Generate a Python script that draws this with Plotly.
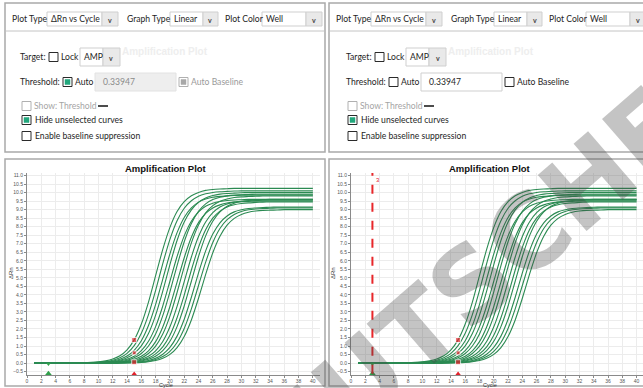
import plotly.graph_objects as go

# ---------------- data ----------------
cycles = list(range(1, 41))

well_01 = [0, 0, 0, 0, 0, 0, 0, 0.02, 0.04, 0.07, 0.13, 0.24, 0.43, 0.78, 1.36, 2.29, 3.58, 5.13, 6.67, 7.96,
           8.89, 9.47, 9.82, 10.01, 10.13, 10.18, 10.21, 10.23, 10.25, 10.25, 10.25, 10.25, 10.25, 10.25, 10.25, 10.25, 10.25, 10.25, 10.25, 10.25]
well_02 = [0, 0, 0, 0, 0, 0, 0, 0.01, 0.03, 0.05, 0.09, 0.17, 0.31, 0.57, 1.02, 1.75, 2.84, 4.26, 5.84, 7.26,
           8.35, 9.08, 9.52, 9.79, 9.93, 10.01, 10.05, 10.07, 10.09, 10.1, 10.1, 10.1, 10.1, 10.1, 10.1, 10.1, 10.1, 10.1, 10.1, 10.1]
well_03 = [0, 0, 0, 0, 0, 0, 0, 0, 0.02, 0.04, 0.07, 0.12, 0.23, 0.41, 0.75, 1.31, 2.20, 3.44, 4.93, 6.41,
           7.65, 8.54, 9.10, 9.44, 9.62, 9.73, 9.78, 9.81, 9.83, 9.85, 9.85, 9.85, 9.85, 9.85, 9.85, 9.85, 9.85, 9.85, 9.85, 9.85]
well_04 = [0, 0, 0, 0, 0, 0, 0, 0, 0.01, 0.03, 0.05, 0.09, 0.17, 0.31, 0.57, 1.01, 1.73, 2.81, 4.22, 5.78,
           7.19, 8.27, 8.99, 9.43, 9.69, 9.83, 9.91, 9.95, 9.97, 9.99, 10.0, 10.0, 10.0, 10.0, 10.0, 10.0, 10.0, 10.0, 10.0, 10.0]
well_05 = [0, 0, 0, 0, 0, 0, 0, 0, 0, 0.02, 0.03, 0.06, 0.12, 0.22, 0.40, 0.73, 1.28, 2.14, 3.35, 4.80,
           6.25, 7.46, 8.32, 8.87, 9.20, 9.38, 9.48, 9.54, 9.57, 9.58, 9.6, 9.6, 9.6, 9.6, 9.6, 9.6, 9.6, 9.6, 9.6, 9.6]
well_06 = [0, 0, 0, 0, 0, 0, 0, 0, 0, 0.01, 0.03, 0.05, 0.09, 0.17, 0.31, 0.56, 1.00, 1.71, 2.78, 4.18,
           5.72, 7.12, 8.19, 8.90, 9.34, 9.59, 9.73, 9.81, 9.85, 9.87, 9.89, 9.9, 9.9, 9.9, 9.9, 9.9, 9.9, 9.9, 9.9, 9.9]
well_07 = [0, 0, 0, 0, 0, 0, 0, 0, 0, 0, 0.02, 0.03, 0.06, 0.12, 0.22, 0.40, 0.72, 1.26, 2.12, 3.32,
           4.75, 6.18, 7.38, 8.24, 8.78, 9.10, 9.28, 9.39, 9.44, 9.47, 9.48, 9.5, 9.5, 9.5, 9.5, 9.5, 9.5, 9.5, 9.5, 9.5]
well_08 = [0, 0, 0, 0, 0, 0, 0, 0, 0, 0, 0.01, 0.03, 0.05, 0.09, 0.17, 0.30, 0.56, 0.99, 1.70, 2.75,
           4.14, 5.66, 7.05, 8.10, 8.81, 9.24, 9.50, 9.63, 9.71, 9.75, 9.77, 9.79, 9.8, 9.8, 9.8, 9.8, 9.8, 9.8, 9.8, 9.8]
well_09 = [0, 0, 0, 0, 0, 0, 0, 0, 0, 0, 0, 0.02, 0.03, 0.06, 0.12, 0.22, 0.40, 0.72, 1.27, 2.13,
           3.33, 4.78, 6.22, 7.42, 8.28, 8.82, 9.15, 9.33, 9.44, 9.49, 9.52, 9.53, 9.55, 9.55, 9.55, 9.55, 9.55, 9.55, 9.55, 9.55]
well_10 = [0, 0, 0, 0, 0, 0, 0, 0, 0, 0, 0, 0.01, 0.02, 0.05, 0.09, 0.16, 0.29, 0.54, 0.95, 1.63,
           2.66, 3.99, 5.46, 6.79, 7.82, 8.50, 8.91, 9.16, 9.29, 9.36, 9.40, 9.42, 9.44, 9.45, 9.45, 9.45, 9.45, 9.45, 9.45, 9.45]
well_11 = [0, 0, 0, 0, 0, 0, 0, 0, 0, 0, 0, 0, 0.02, 0.03, 0.06, 0.12, 0.22, 0.40, 0.73, 1.28,
           2.14, 3.35, 4.80, 6.25, 7.46, 8.32, 8.87, 9.20, 9.38, 9.48, 9.54, 9.57, 9.58, 9.6, 9.6, 9.6, 9.6, 9.6, 9.6, 9.6]
well_12 = [0, 0, 0, 0, 0, 0, 0, 0, 0, 0, 0, 0, 0.01, 0.02, 0.04, 0.08, 0.15, 0.28, 0.52, 0.92,
           1.58, 2.57, 3.86, 5.29, 6.58, 7.57, 8.23, 8.63, 8.87, 8.99, 9.07, 9.10, 9.12, 9.14, 9.15, 9.15, 9.15, 9.15, 9.15, 9.15]
well_13 = [0, 0, 0, 0, 0, 0, 0, 0, 0, 0, 0, 0, 0, 0.02, 0.03, 0.06, 0.11, 0.21, 0.38, 0.69,
           1.21, 2.03, 3.18, 4.55, 5.92, 7.07, 7.89, 8.41, 8.72, 8.89, 8.99, 9.04, 9.07, 9.08, 9.1, 9.1, 9.1, 9.1, 9.1, 9.1]
well_14 = [0, 0, 0, 0, 0, 0, 0, 0, 0, 0, 0, 0, 0, 0.01, 0.02, 0.04, 0.08, 0.15, 0.28, 0.51,
           0.91, 1.56, 2.53, 3.80, 5.20, 6.47, 7.44, 8.09, 8.49, 8.72, 8.85, 8.92, 8.96, 8.97, 8.98, 9.0, 9.0, 9.0, 9.0, 9.0]

wells = [well_01, well_02, well_03, well_04, well_05, well_06, well_07,
         well_08, well_09, well_10, well_11, well_12, well_13, well_14]

ct_marker_cycle = [15, 15, 15]
ct_marker_value = [1.35, 0.6, 0.05]
red_caret_cycle = [15]
red_caret_value = [-0.64]
baseline_start_cycle = [3]
baseline_start_value = [-0.62]
baseline_dot_value = [-0.06]
manual_line_cycle = 3
manual_line_label = "3"

y_ticks = [-0.5, 0.0, 0.5, 1.0, 1.5, 2.0, 2.5, 3.0, 3.5, 4.0, 4.5, 5.0, 5.5, 6.0,
           6.5, 7.0, 7.5, 8.0, 8.5, 9.0, 9.5, 10.0, 10.5, 11.0]
x_ticks = list(range(0, 41, 2))

W, H = 643, 388


def X(p):
    return p / W


def Y(p):
    return 1 - p / H


fig = go.Figure()
CURVE = "#2b8a52"

for axis_suffix in ["", "2"]:
    for w in wells:
        fig.add_trace(go.Scatter(x=cycles, y=w, mode="lines", xaxis="x" + axis_suffix, yaxis="y" + axis_suffix,
                                 line=dict(color=CURVE, width=1.1, shape="spline", smoothing=0.6),
                                 hoverinfo="skip", showlegend=False))
    fig.add_trace(go.Scatter(x=ct_marker_cycle, y=ct_marker_value, mode="markers",
                             xaxis="x" + axis_suffix, yaxis="y" + axis_suffix,
                             marker=dict(symbol="square", size=[5, 4, 5], color="#e3202a"), showlegend=False))
    fig.add_trace(go.Scatter(x=red_caret_cycle, y=red_caret_value, mode="markers",
                             xaxis="x" + axis_suffix, yaxis="y" + axis_suffix,
                             marker=dict(symbol="triangle-up", size=5, color="#e3202a"), showlegend=False))
    fig.add_trace(go.Scatter(x=baseline_start_cycle, y=baseline_start_value, mode="markers",
                             xaxis="x" + axis_suffix, yaxis="y" + axis_suffix,
                             marker=dict(symbol="triangle-up", size=6, color="#2fa04a"), showlegend=False))
    fig.add_trace(go.Scatter(x=baseline_start_cycle, y=baseline_dot_value, mode="markers",
                             xaxis="x" + axis_suffix, yaxis="y" + axis_suffix,
                             marker=dict(symbol="triangle-down", size=4, color="#2fa04a"), showlegend=False))

# manual baseline line on right plot
fig.add_trace(go.Scatter(x=[manual_line_cycle, manual_line_cycle], y=[-0.62, 11.15], mode="lines",
                         xaxis="x2", yaxis="y2", line=dict(color="#e8262a", width=2, dash="dash"),
                         showlegend=False))

axis_common = dict(showgrid=True, gridcolor="#ececec", gridwidth=1, zeroline=False, showline=True,
                   linecolor="#8a8a8a", linewidth=1, ticks="outside", ticklen=2, tickcolor="#8a8a8a",
                   tickfont=dict(family="Liberation Sans", size=5, color="#555"))

ydom = [Y(375), Y(173)]
fig.update_layout(
    width=W, height=H, margin=dict(l=0, r=0, t=0, b=0, pad=0),
    paper_bgcolor="white", plot_bgcolor="white", showlegend=False,
    xaxis=dict(domain=[X(27), X(320)], range=[0, 41], tickvals=x_ticks, anchor="y",
               ticklabelstandoff=-1, **axis_common),
    yaxis=dict(domain=ydom, range=[-0.7, 11.15], tickvals=y_ticks, tickformat=".1f", anchor="x", **axis_common),
    xaxis2=dict(domain=[X(351), X(643)], range=[0, 40.9], tickvals=x_ticks, anchor="y2",
                ticklabelstandoff=-1, **axis_common),
    yaxis2=dict(domain=ydom, range=[-0.7, 11.15], tickvals=y_ticks, tickformat=".1f", anchor="x2", **axis_common),
)

shapes = []
ann = []
UI_FONT = 8.6


def rect(x0, y0, x1, y1, line="#c8c8c8", fill="white", width=1):
    shapes.append(dict(type="rect", xref="paper", yref="paper", x0=X(x0), x1=X(x1), y0=Y(y1), y1=Y(y0),
                       line=dict(color=line, width=width), fillcolor=fill, layer="above"))


def hline(x0, x1, y, color="#c8c8c8", width=1):
    shapes.append(dict(type="line", xref="paper", yref="paper", x0=X(x0), x1=X(x1), y0=Y(y), y1=Y(y),
                       line=dict(color=color, width=width), layer="above"))


def text(x, y, s, size=UI_FONT, color="#1e1e1e", anchor="left", family="Lato", angle=0):
    ann.append(dict(x=X(x), y=Y(y), xref="paper", yref="paper", text=s, showarrow=False,
                    xanchor=anchor, yanchor="middle", textangle=angle,
                    font=dict(family=family, size=size, color=color)))


def dropdown(x0, x1, x2, y0, y1, label):
    rect(x0, y0, x1, y1, line="#cfcfcf", fill="white")
    rect(x1, y0, x2, y1, line="#cfcfcf", fill="#e9e9e9")
    text(x0 + 1.5, (y0 + y1) / 2, label)
    text((x1 + x2) / 2, (y0 + y1) / 2 + 0.5, "<b>v</b>", size=7, color="#444", anchor="center")


def checkbox(x, y, state="off", disabled=False):
    border = "#b0b0b0" if disabled else "#2a2a2a"
    rect(x, y - 4.5, x + 9, y + 4.5, line=border, fill="white", width=1)
    if state == "on":
        rect(x + 2, y - 2.5, x + 7, y + 2.5, line="#22a77c", fill="#22a77c", width=0.5)
    if state == "dis_on":
        rect(x + 2, y - 2.5, x + 7, y + 2.5, line="#a8a8a8", fill="#a8a8a8", width=0.5)


# ---------------- panel frames ----------------
FRAME = "#a9a9a9"
rect(5, 3, 325, 152, line=FRAME, fill="rgba(0,0,0,0)", width=1.5)
rect(329, 3, 660, 152, line=FRAME, fill="rgba(0,0,0,0)", width=1.5)
rect(5, 159, 325, 386, line=FRAME, fill="rgba(0,0,0,0)", width=1.5)
rect(329, 159, 660, 386, line=FRAME, fill="rgba(0,0,0,0)", width=1.5)


def control_panel(ot, o, auto_on):
    text(10 + ot, 19, "Plot Type")
    dropdown(47 + ot, 102 + ot, 118 + ot, 12, 26, "ΔRn vs Cycle")
    text(125 + ot, 19, "Graph Type")
    dropdown(170 + ot, 203 + ot, 218 + ot, 12, 26, "Linear")
    text(223 + ot, 19, "Plot Color")
    dropdown(262 + ot, 306 + ot, 322 + ot, 12, 26, "Well")
    hline(6 + ot, 324 + ot, 31, color="#c4c4c4")
    text(165 + o, 52, "<b>Amplification Plot</b>", size=10, color="#eeeeee", anchor="center",
         family="Liberation Sans")
    # target row
    text(18 + o, 57, "Target:")
    checkbox(49 + o, 57)
    text(59 + o, 57, "Lock")
    dropdown(80 + o, 103 + o, 120 + o, 48, 66, "AMP")
    # threshold row
    text(18 + o, 82, "Threshold:")
    checkbox(63 + o, 82, "on" if auto_on else "off")
    text(73 + o, 82, "Auto")
    if auto_on:
        rect(95 + o, 73, 176 + o, 91, line="#e2e2e2", fill="#eeeeee")
        text(101 + o, 82, "0.33947", color="#8a8a8a")
        checkbox(179 + o, 82, "dis_on", disabled=True)
        text(189 + o, 82, "Auto Baseline", color="#9a9a9a")
    else:
        rect(95 + o, 73, 176 + o, 91, line="#cfcfcf", fill="white")
        text(101 + o, 82, "0.33947")
        checkbox(179 + o, 82, "off")
        text(189 + o, 82, "Auto Baseline")
    # options
    checkbox(22 + o, 106, "off", disabled=True)
    text(32 + o, 106, "Show: Threshold", color="#a5a5a5")
    hline(98 + o, 108 + o, 106, color="#111", width=1.5)
    checkbox(22 + o, 120, "on")
    text(33 + o, 120, "Hide unselected curves")
    checkbox(22 + o, 136, "off")
    text(33 + o, 136, "Enable baseline suppression")


control_panel(0, 0, True)
control_panel(324, 326, False)

# ---------------- plot labels ----------------
for cx, ycx in [(166, 11), (490, 333)]:
    text(cx, 168, "<b>Amplification Plot</b>", size=9.5, color="#111", anchor="center", family="Liberation Sans")
    text(ycx, 273, "ΔRn", size=6, color="#333", anchor="center", family="Liberation Sans", angle=-90)
    text(cx, 385, "Cycle", size=5.5, color="#333", anchor="center", family="Liberation Sans")

ann.append(dict(x=manual_line_cycle + 0.2, y=10.75, xref="x2", yref="y2", text=manual_line_label,
                showarrow=False, xanchor="left", yanchor="middle",
                font=dict(family="Liberation Sans", size=6, color="#e3202a")))

# ---------------- watermark ----------------
ann.append(dict(x=X(472), y=Y(283), xref="paper", yref="paper", text="<b>DEUTSCHER</b>", showarrow=False,
                xanchor="center", yanchor="middle", textangle=-41,
                font=dict(family="DejaVu Sans", size=102, color="rgba(70,70,70,0.32)")))

fig.update_layout(shapes=shapes, annotations=ann)
fig.write_html("out.html", config={"displayModeBar": False},
               post_script="document.body.style.margin='0';document.body.style.padding='0';"
                           "document.body.style.overflow='hidden';")
